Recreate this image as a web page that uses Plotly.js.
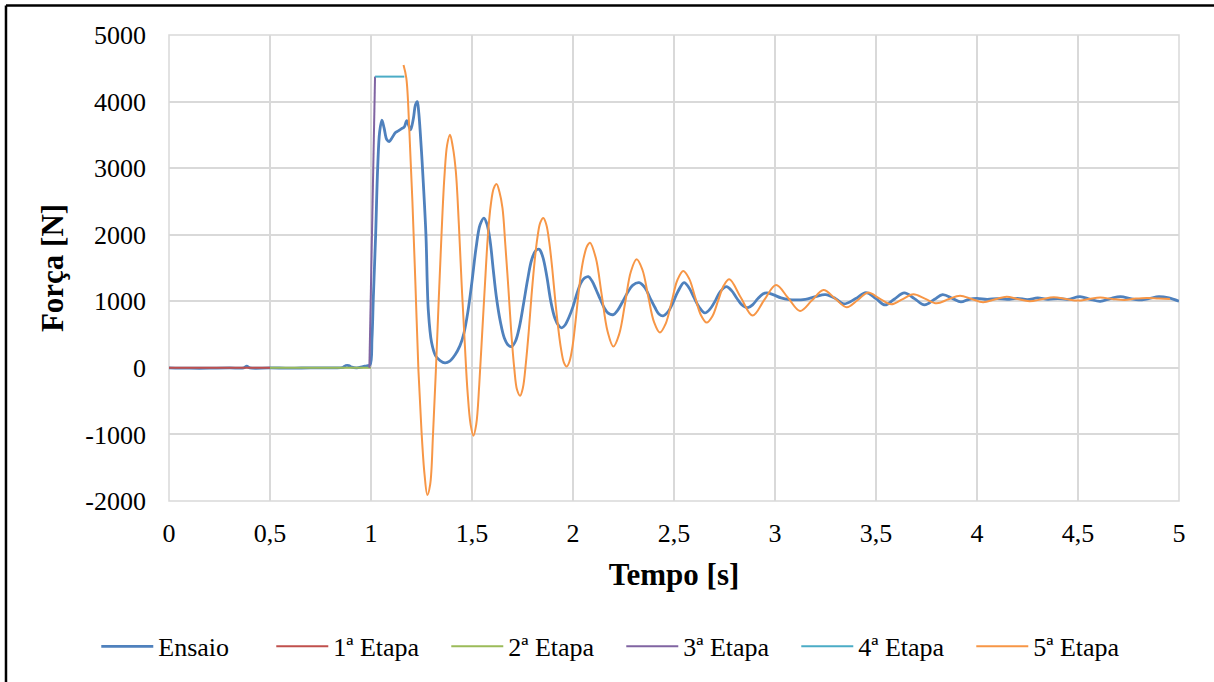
<!DOCTYPE html>
<html>
<head>
<meta charset="utf-8">
<script src="https://cdn.plot.ly/plotly-3.0.1.min.js"></script>
<style>
html,body{margin:0;padding:0;background:#fff;}
#chart{width:1214px;height:682px;}
</style>
</head>
<body>
<div id="chart"></div>
<script>
// ---- Data ----
const seriesNames = ["Ensaio", "1ª Etapa", "2ª Etapa", "3ª Etapa", "4ª Etapa", "5ª Etapa"];
const seriesColors = ["#4F81BD", "#C0504D", "#9BBB59", "#8064A2", "#4BACC6", "#F79646"];

const ensaioT = [0,0.1,0.2,0.3,0.37,0.385,0.4,0.5,0.6,0.7,0.8,0.86,0.875,0.89,0.905,0.93,0.96,0.98,0.995,1.005,1.011,1.017,1.023,1.033,1.043,1.054,1.065,1.078,1.09,1.105,1.12,1.135,1.15,1.165,1.177,1.187,1.196,1.21,1.22,1.229,1.236,1.243,1.251,1.259,1.272,1.284,1.30,1.32,1.342,1.366,1.39,1.415,1.44,1.46,1.48,1.50,1.52,1.54,1.559,1.575,1.59,1.605,1.62,1.64,1.66,1.68,1.696,1.715,1.735,1.755,1.775,1.795,1.815,1.833,1.85,1.87,1.89,1.91,1.93,1.944,1.96,1.98,2.0,2.02,2.04,2.058,2.076,2.095,2.115,2.135,2.155,2.175,2.2,2.22,2.245,2.27,2.295,2.327,2.355,2.38,2.405,2.425,2.446,2.47,2.495,2.52,2.55,2.575,2.6,2.625,2.653,2.68,2.705,2.73,2.76,2.785,2.81,2.835,2.866,2.89,2.915,2.94,2.96,2.99,3.03,3.07,3.1,3.15,3.2,3.25,3.3,3.34,3.4,3.45,3.5,3.545,3.59,3.64,3.69,3.74,3.79,3.83,3.88,3.92,3.96,4.0,4.05,4.1,4.15,4.2,4.25,4.3,4.35,4.4,4.45,4.51,4.56,4.61,4.66,4.71,4.76,4.8,4.85,4.9,4.95,5.0];
const ensaioF = [0,-5,-5,0,0,25,0,0,-5,0,0,5,35,35,10,0,20,30,45,450,1000,1500,2000,3000,3550,3720,3600,3430,3400,3460,3530,3560,3590,3620,3715,3640,3575,3750,3950,4000,3850,3575,3200,2775,2000,850,380,180,110,75,100,190,330,520,850,1300,1800,2150,2250,2150,1900,1480,1080,700,450,340,320,400,620,960,1320,1620,1760,1780,1670,1380,1000,750,630,600,640,760,920,1120,1280,1350,1370,1300,1170,1030,900,820,800,860,990,1130,1240,1280,1210,1060,910,810,780,840,980,1150,1280,1200,1050,910,825,890,1010,1150,1220,1160,1050,950,905,950,1040,1110,1125,1100,1050,1025,1020,1030,1070,1100,1040,960,1040,1130,1040,945,1030,1125,1040,945,1030,1100,1040,990,1030,1045,1030,1040,1030,1045,1025,1050,1030,1040,1030,1070,1030,1000,1040,1070,1040,1020,1040,1070,1050,1000];

const etapa1T = [0, 0.5];
const etapa1F = [0, 0];

const etapa2T = [0.5, 1.0];
const etapa2F = [0, 0];

const etapa3T = [0.992, 1.02];
const etapa3F = [0, 4375];

const etapa4T = [1.02, 1.165];
const etapa4F = [4375, 4375];

const etapa5T = [1.161,1.175,1.19,1.205,1.22,1.235,1.25,1.265,1.279,1.293,1.307,1.321,1.335,1.349,1.363,1.377,1.391,1.405,1.42,1.435,1.449,1.464,1.478,1.493,1.507,1.521,1.536,1.55,1.565,1.579,1.593,1.608,1.622,1.636,1.651,1.665,1.68,1.694,1.709,1.723,1.738,1.752,1.767,1.781,1.795,1.81,1.824,1.838,1.853,1.868,1.882,1.897,1.911,1.926,1.94,1.955,1.969,1.983,1.998,2.012,2.026,2.041,2.055,2.07,2.084,2.113,2.142,2.171,2.2,2.229,2.258,2.286,2.315,2.344,2.372,2.401,2.43,2.459,2.488,2.517,2.546,2.575,2.604,2.633,2.662,2.69,2.718,2.746,2.774,2.83,2.889,2.947,3.005,3.065,3.124,3.182,3.24,3.298,3.355,3.41,3.46,3.518,3.576,3.63,3.685,3.742,3.80,3.858,3.916,3.973,4.03,4.09,4.147,4.2,4.26,4.32,4.38,4.44,4.5,4.555,4.61,4.67,4.73,4.785,4.84,4.9,4.955];
const etapa5F = [4550,4350,3550,2500,1250,-50,-950,-1600,-1910,-1750,-1000,-50,1000,2000,2850,3350,3500,3320,2950,2150,1240,380,-360,-850,-1020,-850,-250,500,1300,2000,2450,2700,2760,2640,2400,1850,1200,550,0,-330,-420,-300,80,550,1100,1600,1960,2180,2250,2150,1900,1500,1050,620,300,80,20,100,330,680,1080,1450,1680,1830,1880,1650,1100,550,320,510,975,1440,1630,1470,1080,690,530,665,990,1320,1455,1340,1068,795,680,775,1005,1235,1330,1060,785,1020,1245,1050,855,1010,1170,1040,910,1020,1130,1040,955,1030,1105,1040,970,1030,1085,1035,985,1030,1070,1035,1000,1030,1060,1035,1010,1035,1055,1035,1020,1040,1050,1040,1035];

const xTickVals = [0,0.5,1,1.5,2,2.5,3,3.5,4,4.5,5];
const yTickVals = [-2000,-1000,0,1000,2000,3000,4000,5000];
const xTitle = "Tempo [s]";
const yTitle = "Força [N]";

// ---- Traces ----
const xs = [ensaioT, etapa1T, etapa2T, etapa3T, etapa4T, etapa5T];
const ys = [ensaioF, etapa1F, etapa2F, etapa3F, etapa4F, etapa5F];
const widths = [2.8, 2, 2, 2, 2, 2];
const shapesLine = ["spline", "linear", "linear", "linear", "linear", "spline"];

const traces = seriesNames.map((n, i) => ({
  type: "scatter",
  mode: "lines",
  name: n,
  x: xs[i],
  y: ys[i],
  line: {color: seriesColors[i], width: widths[i], shape: shapesLine[i], smoothing: 1},
  hoverinfo: "x+y+name"
}));

const FONT = "Liberation Serif";

const layout = {
  width: 1214,
  height: 682,
  paper_bgcolor: "#ffffff",
  plot_bgcolor: "#ffffff",
  separators: ", ",
  margin: {l: 169, r: 35, t: 35, b: 181, pad: 0},
  font: {family: FONT, color: "#000000", size: 26},
  showlegend: true,
  legend: {
    orientation: "h",
    x: -0.072, xanchor: "left",
    y: -0.312, yanchor: "middle",
    font: {family: FONT, size: 26, color: "#000000"},
    bgcolor: "rgba(0,0,0,0)",
    itemwidth: 52,
    entrywidth: 108,
    entrywidthmode: "pixels",
    itemclick: false
  },
  xaxis: {
    range: [0, 5],
    tickvals: xTickVals,
    ticktext: xTickVals.map(v => String(v).replace(".", ",")),
    showgrid: true,
    gridcolor: "#d9d9d9",
    gridwidth: 1.5,
    zeroline: false,
    showline: false,
    ticks: "",
    ticklabelstandoff: 14,
    tickfont: {family: FONT, size: 26, color: "#000000"},
    title: {text: "<b>" + xTitle + "</b>", font: {family: FONT, size: 31, color: "#000000"}, standoff: 16},
    fixedrange: true
  },
  yaxis: {
    range: [-2000, 5000],
    tickvals: yTickVals,
    ticktext: yTickVals.map(v => String(v)),
    showgrid: true,
    gridcolor: "#d9d9d9",
    gridwidth: 1.5,
    zeroline: false,
    showline: false,
    ticks: "",
    ticklabelstandoff: 22,
    tickfont: {family: FONT, size: 26, color: "#000000"},
    title: {text: "<b>" + yTitle + "</b>", font: {family: FONT, size: 31, color: "#000000"}, standoff: 12},
    fixedrange: true
  },
  shapes: [
    {type: "line", xref: "paper", yref: "paper", x0: -0.1614, x1: -0.1614, y0: -0.5, y1: 1.0633, line: {color: "#000", width: 2.5}},
    {type: "line", xref: "paper", yref: "paper", x0: -0.1614, x1: 1.1, y0: 1.0633, y1: 1.0633, line: {color: "#000", width: 2.5}},
    {type: "rect", xref: "paper", yref: "paper", x0: 0, x1: 1, y0: 0, y1: 1, line: {color: "#d9d9d9", width: 1.5}, layer: "below"}
  ]
};

Plotly.newPlot("chart", traces, layout, {displayModeBar: false, responsive: false});
</script>
</body>
</html>
